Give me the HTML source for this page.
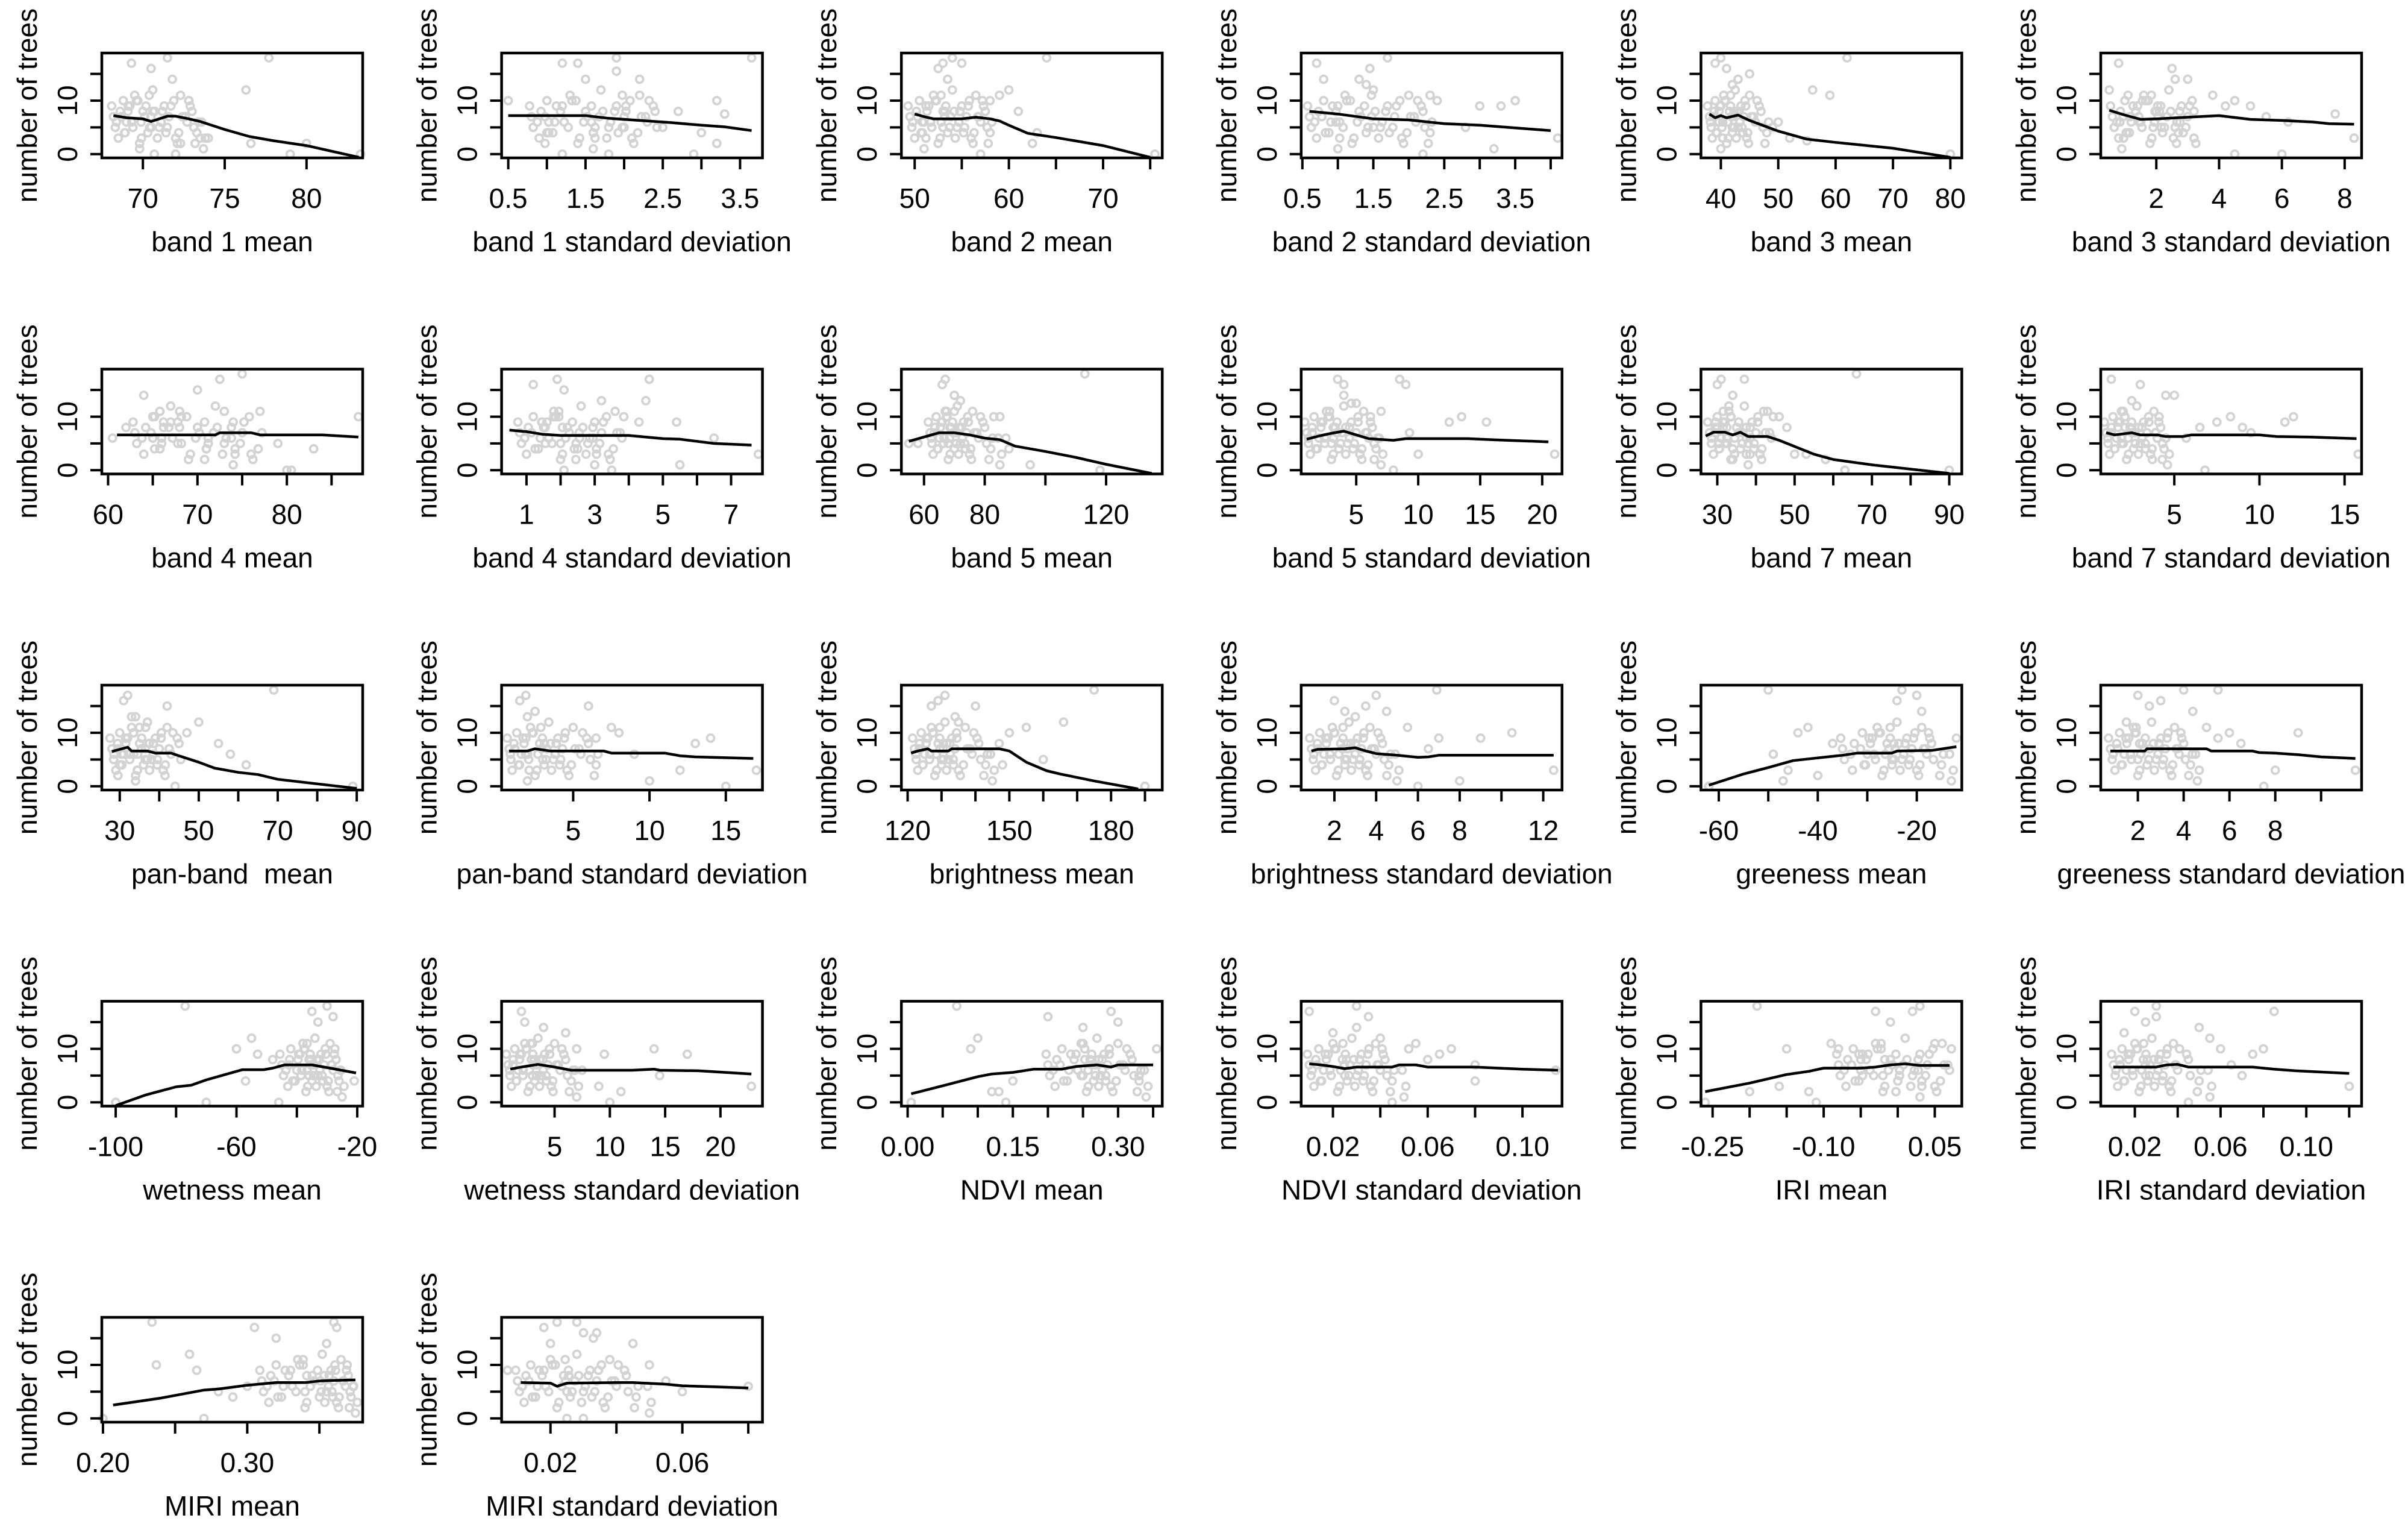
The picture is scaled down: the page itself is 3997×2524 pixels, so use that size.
<!DOCTYPE html>
<html><head><meta charset="utf-8"><style>
html,body{margin:0;padding:0;background:#fff;}
svg{display:block;font-family:"Liberation Sans",Arial,sans-serif;}
</style></head><body>
<svg id="chart" width="3997" height="2524" viewBox="0 0 3997 2524" xmlns="http://www.w3.org/2000/svg"></svg>
<script>
const yDomain=[-0.7,18.9];
const yTicks=[0,5,10,15];
const yTickLabels=['0','','10',''];
const clusterY=[7,3,10,6,9,11,2,8,4,12,5,9,7,3,11,6,8,4,1,5];
const clusterY2=[5,8,4,9,6,10,3,7,5,8,6,4,9,2,7,10,5,6,3,8];
const clusterY3=[9,6,7,4,8,5,10,6,9,7,3,8,5,10,4,7,9,2,6,11];
const titles=["band 1 mean","band 1 standard deviation","band 2 mean","band 2 standard deviation","band 3 mean","band 3 standard deviation","band 4 mean","band 4 standard deviation","band 5 mean","band 5 standard deviation","band 7 mean","band 7 standard deviation","pan-band \u00a0mean","pan-band standard deviation","brightness mean","brightness standard deviation","greeness mean","greeness standard deviation","wetness mean","wetness standard deviation","NDVI mean","NDVI standard deviation","IRI mean","IRI standard deviation","MIRI mean","MIRI standard deviation"];
const xDomains=[[67.49,83.43],[0.414,3.79],[48.59,76.28],[0.483,4.16],[36.53,82],[0.23,8.54],[59.3,88.48],[0.27,7.92],[52.54,138.5],[0.56,21.6],[25.78,93.25],[0.68,16.0],[25.46,91.5],[0.31,17.4],[118.16,195.1],[0.41,12.9],[-63.6,-10.9],[0.38,11.77],[-104.6,-18.2],[0.21,23.8],[-0.0089,0.363],[0.0066,0.1167],[-0.2657,0.0865],[0.0041,0.1258],[0.1992,0.380],[0.00517,0.0843]];
const xTicks=[[70,75,80],[0.5,1,1.5,2,2.5,3,3.5],[50,55,60,65,70,75],[0.5,1,1.5,2,2.5,3,3.5,4],[40,50,60,70,80],[2,4,6,8],[60,65,70,75,80,85],[1,2,3,4,5,6,7],[60,80,100,120],[5,10,15,20],[30,40,50,60,70,80,90],[5,10,15],[30,40,50,60,70,80,90],[5,10,15],[120,130,140,150,160,170,180,190],[2,4,6,8,10,12],[-60,-50,-40,-30,-20],[2,4,6,8,10],[-100,-80,-60,-40,-20],[5,10,15,20],[0,0.05,0.1,0.15,0.2,0.25,0.3,0.35],[0.02,0.04,0.06,0.08,0.1],[-0.25,-0.2,-0.15,-0.1,-0.05,0,0.05],[0.02,0.04,0.06,0.08,0.1,0.12],[0.2,0.25,0.3,0.35],[0.02,0.04,0.06,0.08]];
const xTickLabels=[["70","75","80"],["0.5","","1.5","","2.5","","3.5"],["50","","60","","70",""],["0.5","","1.5","","2.5","","3.5",""],["40","50","60","70","80"],["2","4","6","8"],["60","","70","","80",""],["1","","3","","5","","7"],["60","80","","120"],["5","10","15","20"],["30","","50","","70","","90"],["5","10","15"],["30","","50","","70","","90"],["5","10","15"],["120","","","150","","","180",""],["2","4","6","8","","12"],["-60","","-40","","-20"],["2","4","6","8",""],["-100","","-60","","-20"],["5","10","15","20"],["0.00","","","0.15","","","0.30",""],["0.02","","0.06","","0.10"],["-0.25","","","-0.10","","","0.05"],["0.02","","0.06","","0.10",""],["0.20","","0.30",""],["0.02","","0.06",""]];
const clusterX=[
[68.2,68.5,68.8,69,69.2,69.5,69.8,70,70.3,70.6,71,71.3,71.6,72,72.3,72.7,73,73.3,73.7,70.5],
[0.8,0.9,1.0,1.1,1.2,1.3,1.4,1.5,1.6,1.7,1.8,1.9,2.0,2.1,2.2,2.3,2.4,1.0,1.6,2.0],
[49.5,50,50.5,51,51.5,52,52.5,53,53.5,54,54.5,55,55.5,56,56.5,57,57.5,58,51,53],
[0.6,0.7,0.8,0.9,1.0,1.1,1.2,1.3,1.4,1.5,1.6,1.7,1.8,1.9,2.0,2.1,2.2,2.3,1.0,1.5],
[38,38.5,39,39.5,40,40.5,41,41.5,42,42.5,43,43.5,44,44.5,45,46,47,48,40,42],
[0.6,0.8,1,1.2,1.4,1.6,1.8,2,2.2,2.4,2.6,2.8,3,3.2,1.1,1.5,2.1,2.7,0.9,1.9],
[63,64,65,66,67,68,69,70,71,72,73,74,75,76,77,65,68,71,74,66],
[0.8,1,1.2,1.4,1.6,1.8,2,2.2,2.4,2.6,2.8,3,3.2,3.4,3.6,3.8,1.5,2.5,3,2],
[62,63,64,65,66,67,68,69,70,71,72,73,74,75,76,78,80,82,85,68],
[1,1.3,1.6,2,2.3,2.6,3,3.3,3.6,4,4.3,4.6,5,5.3,5.6,6,6.3,6.6,7,3],
[28,29,30,31,32,33,34,35,36,37,38,39,40,41,42,44,30,34,38,32],
[1,1.2,1.4,1.6,1.8,2,2.2,2.4,2.6,2.8,3,3.2,3.4,3.6,3.8,4,4.2,4.4,4.6,2],
[28,29,30,31,32,33,34,35,36,37,38,39,40,41,42,43,45,30,34,37],
[0.8,1,1.3,1.6,1.9,2.2,2.5,2.8,3.1,3.4,3.7,4,4.3,4.6,5,5.5,6,6.5,2,3],
[122,123,124,125,126,127,128,129,130,131,132,133,134,135,137,139,141,143,145,130],
[0.9,1.1,1.3,1.5,1.7,1.9,2.1,2.3,2.5,2.7,2.9,3.1,3.3,3.5,3.7,4,4.3,4.6,5,2.5],
[-35,-33,-31,-30,-29,-28,-27,-26,-25,-24,-23,-22,-21,-20,-19,-18,-17,-15,-13,-25],
[0.8,1,1.2,1.4,1.6,1.8,2,2.2,2.4,2.6,2.8,3,3.2,3.4,3.6,3.8,4,4.3,4.6,2],
[-45,-43,-42,-40,-39,-38,-37,-36,-35,-34,-33,-32,-31,-30,-29,-28,-27,-26,-25,-36],
[0.8,1.1,1.4,1.7,2,2.3,2.6,2.9,3.2,3.5,3.8,4.1,4.4,4.7,5,5.5,6,6.5,7,3],
[0.2,0.21,0.22,0.23,0.24,0.25,0.255,0.26,0.265,0.27,0.275,0.28,0.285,0.29,0.3,0.31,0.32,0.33,0.34,0.25],
[0.01,0.012,0.014,0.016,0.018,0.02,0.022,0.024,0.026,0.028,0.03,0.032,0.034,0.036,0.038,0.04,0.042,0.045,0.05,0.025],
[-0.08,-0.07,-0.06,-0.05,-0.04,-0.03,-0.02,-0.01,0,0.01,0.02,0.03,0.04,0.05,0.06,0.07,-0.05,0,0.03,-0.02],
[0.01,0.012,0.014,0.016,0.018,0.02,0.022,0.024,0.026,0.028,0.03,0.032,0.034,0.036,0.038,0.04,0.045,0.05,0.055,0.025],
[0.31,0.315,0.32,0.325,0.33,0.335,0.34,0.345,0.35,0.352,0.355,0.358,0.36,0.362,0.365,0.368,0.37,0.372,0.375,0.34],
[0.01,0.012,0.014,0.016,0.018,0.02,0.022,0.024,0.026,0.028,0.03,0.032,0.034,0.036,0.038,0.04,0.043,0.046,0.05,0.025]];
const outlierX=[
[74,69.3,70.5,71.5,69.8,72,76.3,76.6,77.7,79,80,83.3,71.8,70.7,72.8,72.3,73.5],
[1.2,1.4,1.9,1.9,1.5,2.2,0.5,3.65,3.2,3.3,3.2,2.9,1.2,1.8,2.7,2.5,3.0],
[52.5,53,54,53.5,55,58,59,60,61,62.5,63,64,75.5,57],
[0.7,0.8,1.3,1.4,1.45,1.7,2.3,2.4,3.0,3.3,3.2,3.5,4.1,2.8,2.2],
[39,40,41,42,43,45,50,52,55,56,59,62,80,49],
[0.5,0.8,2.5,2.6,3,3.8,4.2,4.5,5.5,6.2,7.7,8.3,4.5,5,6,3.2],
[64,67,70,72.5,73,75,79,80,80.5,83,88,62,60.5],
[1.2,1.9,2.1,3.2,4.5,4.6,4.3,5.4,6.5,5.5,7.8,2.1,1.8,3.5],
[66,67,70,72,70,83,85,95,87,118,113,58,55,88],
[3.5,4,4,4.6,5,7,8.5,9,9.3,10,12.5,13.5,15.5,21,8],
[30,31,33,34,37,43,46,48,50,53,58,63,90,66],
[1.3,2.5,3,4.5,5,5.7,6.5,7.5,8.3,9,9.5,11.5,12,15.8,6.8],
[31,32,33,34,35,37,42,47,50,55,58,62,69,89,44],
[1.5,1.9,2,2.5,6,6.5,7.5,8,9,10,12,13,14,17,15],
[127,129,131,134,135,140,147,150,155,160,166,175,190,148],
[2,2.5,3,3.5,4,4.5,5.5,6.5,7,8,9,10.5,12.5,6,6.9],
[-62,-50,-47,-46,-44,-42,-40,-37,-24,-23,-20,-19,-12,-49],
[1.5,2,2.5,3,4,4.4,5,5.5,6,6.5,7.5,8,9,11.5,5.5],
[-100,-77,-70,-60,-55,-53,-48,-46,-35,-33,-30,-28,-21,-57],
[2,2.3,3,4,6,7,7.5,9,9.5,10,11,14,14.5,17,22.8],
[0.005,0.07,0.09,0.1,0.13,0.14,0.15,0.2,0.25,0.29,0.3,0.33,0.355,0.12],
[0.01,0.02,0.03,0.03,0.035,0.04,0.052,0.055,0.06,0.065,0.07,0.08,0.08,0.114,0.045],
[-0.26,-0.19,-0.16,-0.15,-0.12,-0.11,-0.09,-0.08,-0.03,-0.01,0.02,0.03,0.05,-0.2],
[0.015,0.02,0.025,0.03,0.03,0.05,0.055,0.06,0.065,0.07,0.075,0.08,0.085,0.12,0.045],
[0.2,0.234,0.237,0.26,0.265,0.27,0.28,0.29,0.3,0.305,0.32,0.355,0.36,0.362],
[0.007,0.018,0.02,0.022,0.028,0.03,0.033,0.034,0.045,0.05,0.055,0.06,0.08,0.025,0.03]];
const outlierY=[
[3,17,16,18,1,0,12,2,18,0,2,0,14,0,10,2,3],
[17,17,18,15.5,14,14,10,18,10,7.5,2,0,0,0,8,5,4],
[16,17,18,14,17,10,11,12,8,2,4,18,0,0],
[17,14,14,13,16,18,11,10,9,9,1,10,3,5,0],
[17,18,16,13,14,15,6,3,2.5,12,11,18,0,5],
[12,17,16,14,14,11,9,10,7,6,7.5,3,0,9,0,8],
[14,12,15,17,11,18,5,0,0,4,10,8,6],
[16,17,15,13,13,17,9,9,6,1,3,0,10,0],
[16,17,14,13,11,10,10,1,6,0,18,5,5,4],
[17,16,14,12.5,12.5,11,17,16,7,3,9,10,9,3,0],
[16,17,12,14,17,11,10,8,3,3,2,0,0,18],
[17,13,16,14,14,6,8,9,10,8,7,9,10,3,0],
[16,17,13,13,11,12,15,10,12,8,6,4,18,0,0],
[16,17,13,14,15,9,11,10,6,1,3,8,9,3,0],
[15,16,17,13,12,15,8,10,11,5,12,18,0,4],
[16,14,13,15,17,14,11,7,9,1,9,10,3,0,18],
[0,18,1,3,10,11,2,8,16,18,17,14,9,6],
[12,17,15,16,18,14,11,9,10,8,0,3,10,3,18],
[0,18,0,10,12,9,8,0,17,15,18,16,4,4],
[17,15,11,14,13,10,6,3,9,0,2,10,5,9,3],
[0,18,10,12,2,0,4,16,14,17,15,5,10,2],
[17,13,18,14,16,12,10,11,8,9,10,7,4,6,0],
[0,18,3,10,2,0,11,10,17,15,17,18,11,2],
[13,17,15,16,18,14,12,10,7,5,9,10,17,3,0],
[0,18,10,12,9,0,5,4,6,17,15,14,18,17],
[9,17,14,18,18,16,15,16,14,10,7,5,6,0,0]];
const lineX=[
[68.2,69,70,70.5,71,71.5,72,72.8,73.5,75,76.5,78,80,83.2],
[0.5,1.5,1.8,2.2,2.6,3.0,3.3,3.65],
[50,51,52,55,56.5,58,59,60,62,65,70,75],
[0.6,1,1.5,2,2.5,3,3.5,4],
[38,39,40,41,43,45,50,55,60,70,80],
[0.5,1,1.5,2,3,4,5,6,7,7.5,8.3],
[61,72,72.5,76,77,84,88],
[0.5,1,1.5,2,4,4.5,5,5.5,6.5,7.6],
[55,60,65,70,75,80,85,90,100,110,120,135],
[1,2,3,4,5,6,8,9,12,14,16,20.5],
[27,29,32,34,36,38,43,46,55,60,70,90],
[1,1.5,2.5,3,4,4.5,5.5,6,10,11,13,15.7],
[28,30,32,33,37,39,43,45,50,54,60,65,70,90],
[0.8,2,2.5,3.5,7,7.5,11,12,13,16.8],
[121,123,126,127,132,133,147,150,155,161,165,175,188],
[0.9,1.2,2.5,3,3.5,4,5,6,6.5,7,12.5],
[-62,-55,-50,-45,-40,-35,-32,-25,-24,-17,-12],
[0.8,2.3,2.4,5,5.2,7,7.3,8,9,10,11.5],
[-100,-90,-80,-75,-70,-65,-58,-51,-48,-44,-35,-30,-20.4],
[1,2,3.5,5,6.5,12,14,14.5,18,22.8],
[0.005,0.05,0.1,0.12,0.15,0.18,0.22,0.24,0.27,0.29,0.3,0.35],
[0.01,0.015,0.02,0.025,0.03,0.045,0.048,0.055,0.06,0.08,0.1,0.115],
[-0.26,-0.2,-0.15,-0.12,-0.1,-0.05,-0.03,-0.01,0.01,0.03,0.07],
[0.01,0.03,0.035,0.04,0.045,0.075,0.085,0.095,0.12],
[0.207,0.24,0.26,0.27,0.28,0.3,0.32,0.34,0.35,0.36,0.375],
[0.011,0.02,0.022,0.025,0.04,0.045,0.055,0.06,0.07,0.08]];
const lineY=[
[7.2,6.8,6.6,6.1,6.6,7.1,7.1,6.6,6.1,4.6,3.3,2.5,1.6,-0.6],
[7.2,7.2,6.7,6.3,5.9,5.4,5.1,4.4],
[7.5,7,6.6,6.6,6.9,6.6,6.2,5.4,3.9,3.1,1.6,-0.6],
[8,7.5,6.6,6.4,5.7,5.4,4.9,4.4],
[7.5,6.8,7.2,6.8,7.3,6.3,4.3,2.8,2.2,1.1,-0.6],
[8.2,7.3,6.5,6.6,6.9,7.2,6.5,6.3,6.0,5.7,5.6],
[6.6,6.6,7.0,7.0,6.6,6.6,6.2],
[7.5,7.2,6.7,6.5,6.5,6.2,5.9,5.8,5.0,4.7],
[5.4,6.2,7.0,7.0,6.6,6.0,5.7,4.5,3.5,2.4,1.1,-0.6],
[5.8,6.4,6.9,7.3,6.6,5.9,5.6,5.9,5.9,5.9,5.7,5.3],
[6.4,7.1,7.1,6.6,7.1,6.3,6.3,5.6,3.0,2.0,1.0,-0.6],
[7.0,6.6,7.0,6.6,6.6,6.3,6.3,6.6,6.6,6.3,6.2,5.9],
[6.5,6.9,7.3,6.6,6.6,6.2,6.2,5.7,4.5,3.4,2.6,2.2,1.3,-0.4],
[6.6,6.6,7.0,6.6,6.6,6.2,6.2,5.7,5.5,5.2],
[6.2,6.6,7.0,6.6,6.6,7.0,7.0,6.6,4.5,2.9,2.3,1.0,-0.5],
[6.6,6.9,7.0,7.2,6.6,6.1,5.8,5.4,5.5,5.8,5.8],
[0.2,2.3,3.5,4.8,5.3,5.8,6.2,6.2,6.6,6.7,7.4],
[6.6,6.6,7.0,7.0,6.6,6.6,6.3,6.2,5.9,5.5,5.2],
[-0.6,1.4,2.9,3.2,4.2,5.0,6.1,6.1,6.4,7.0,7.0,6.5,5.5],
[6.2,6.6,7.1,6.6,6.0,6.0,6.2,6.0,5.9,5.3],
[1.6,3.1,4.8,5.3,5.6,6.2,6.2,6.7,7.0,6.6,7.0,7.0],
[7.2,7.0,6.7,6.3,6.6,6.6,7.0,7.0,6.6,6.6,6.2,6.0],
[2.0,3.6,5.2,5.8,6.4,6.4,6.6,7.0,7.2,6.9,6.9],
[6.6,6.6,7.0,7.1,6.6,6.6,6.2,5.9,5.4],
[2.5,3.8,4.8,5.3,5.5,6.2,6.7,6.7,7.0,7.1,7.2],
[6.7,6.6,6.0,6.6,6.7,6.7,6.4,6.1,5.9,5.7]];

const NS='http://www.w3.org/2000/svg';
const svg=document.getElementById('chart');
const W=433,H=174;
function mk(tag,attrs,parent){const e=document.createElementNS(NS,tag);for(const k in attrs)e.setAttribute(k,attrs[k]);parent.appendChild(e);return e;}
titles.forEach((title,i)=>{
  const c=i%6,r=Math.floor(i/6);
  const L=169+663.6*c,T=88+524.5*r;
  const d=xDomains[i];
  const sx=v=>L+(v-d[0])/(d[1]-d[0])*W;
  const sy=v=>T+H-(v-yDomain[0])/(yDomain[1]-yDomain[0])*H;
  const g=mk('g',{},svg);
  
  
  const pg=mk('g',{fill:'none',stroke:'#d3d3d3','stroke-width':3.8},g);
  
  
  const px=[],py=[];
  const off=(d[1]-d[0])*0.007;
  clusterX[i].forEach((x,k)=>{
    px.push(x);py.push(clusterY[k]);
    px.push(x+off);py.push(clusterY2[k]);
    px.push(x-off);py.push(clusterY3[k]);
  });
  const n=Math.min(outlierX[i].length,outlierY[i].length);
  for(let k=0;k<n;k++){px.push(outlierX[i][k]);py.push(outlierY[i][k]);}
  px.forEach((x,k)=>{
    const ci=mk('circle',{cx:sx(x).toFixed(1),cy:sy(py[k]).toFixed(1),r:6},pg);
    
    
  });
  const pts=lineX[i].map((x,k)=>sx(x).toFixed(1)+','+sy(lineY[i][k]).toFixed(1)).join(' ');
  const pl=mk('polyline',{points:pts,fill:'none',stroke:'#000','stroke-width':4.5,'stroke-linejoin':'round'},g);
  
  
  const bx=mk('rect',{x:L,y:T,width:W,height:H,fill:'none',stroke:'#000','stroke-width':4.5},g);
  
  
  yTicks.forEach((t,k)=>{
    const y=sy(t);
    const tl=mk('line',{x1:L,x2:L-19,y1:y,y2:y,stroke:'#000','stroke-width':4},g);
    
    
    if(yTickLabels[k]){
      const tx=mk('text',{x:L-57,y:y,'font-size':46,'text-anchor':'middle','dominant-baseline':'central',transform:`rotate(-90 ${L-57} ${y})`},g);
      tx.textContent=yTickLabels[k];
      
      
    }
  });
  const yt=mk('text',{x:L-124,y:T+H/2,'font-size':46,'text-anchor':'middle','dominant-baseline':'central',transform:`rotate(-90 ${L-124} ${T+H/2})`},g);
  yt.textContent='number of trees';
  
  
  xTicks[i].forEach((t,k)=>{
    const x=sx(t);
    const tl=mk('line',{x1:x,x2:x,y1:T+H,y2:T+H+19,stroke:'#000','stroke-width':4},g);
    
    
    const lab=xTickLabels[i][k];
    if(lab){
      const tx=mk('text',{x:x,y:T+H+67,'font-size':46,'text-anchor':'middle','dominant-baseline':'central'},g);
      tx.textContent=lab;
      
      
    }
  });
  const xt=mk('text',{x:L+W/2,y:T+H+139,'font-size':46,'text-anchor':'middle','dominant-baseline':'central'},g);
  xt.textContent=title;
  
  
});
</script>
</body></html>
